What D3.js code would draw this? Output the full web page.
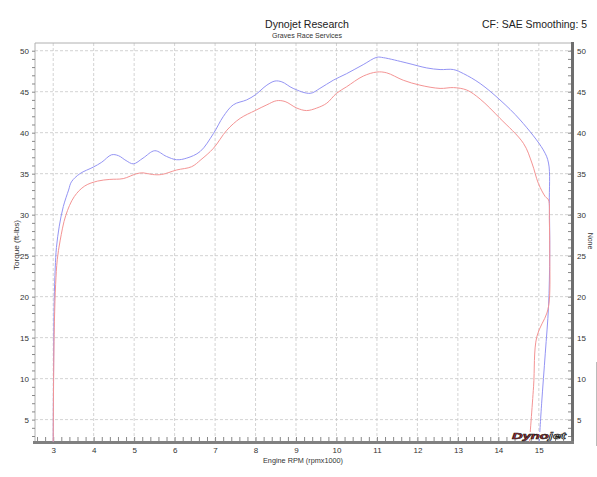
<!DOCTYPE html>
<html><head><meta charset="utf-8">
<script src="https://cdn.jsdelivr.net/npm/d3@7"></script>
<style>html,body{margin:0;padding:0;background:#fff;}svg{display:block;}</style>
</head><body>
<svg id="c" width="597" height="477"></svg>
<script>
const titleText = "Dynojet Research";
const subtitleText = "Graves Race Services";
const cornerText = "CF: SAE Smoothing: 5";
const xLabel = "Engine RPM (rpmx1000)";
const yLabel = "Torque (ft-lbs)";
const y2Label = "None";
const xTicks = [3,4,5,6,7,8,9,10,11,12,13,14,15];
const yTicks = [5,10,15,20,25,30,35,40,45,50];

const blueRpm = [3.00,3.01,3.025,3.05,3.08,3.15,3.25,3.38,3.45,3.66,3.99,4.20,4.44,4.61,4.80,4.98,5.22,5.51,5.80,6.05,6.30,6.63,6.96,7.20,7.45,7.78,7.99,8.28,8.48,8.65,8.93,9.35,9.59,9.92,10.25,10.66,11.00,11.16,11.74,12.23,12.56,12.89,13.14,13.55,14.04,14.54,15.11,15.24,15.26,15.27,15.24,15.16,15.07,15.01];
const blueTq  = [2.3,12,19.5,23.5,26.0,28.6,31.0,33.0,34.0,35.0,35.8,36.4,37.3,37.2,36.6,36.2,36.9,37.8,37.1,36.7,36.9,37.7,39.9,41.95,43.4,44.0,44.6,45.8,46.3,46.2,45.4,44.8,45.4,46.4,47.2,48.3,49.2,49.15,48.5,47.9,47.7,47.7,47.2,46.0,44.0,41.55,37.9,36.3,31.4,25.3,18.8,13.1,7.0,2.3];

const redRpm = [3.00,3.01,3.03,3.06,3.10,3.17,3.31,3.52,3.78,4.10,4.40,4.73,5.06,5.22,5.45,5.68,6.05,6.42,6.65,6.96,7.29,7.62,7.99,8.28,8.52,8.73,9.02,9.26,9.51,9.76,10.00,10.25,10.66,11.00,11.24,11.65,12.06,12.56,12.89,13.22,13.55,14.04,14.62,14.83,14.99,15.16,15.24,15.26,15.27,15.26,15.20,14.95,14.87,14.77];
const redTq  = [2.3,10,17,21.5,24.5,26.8,29.9,32.2,33.5,34.1,34.3,34.4,35.0,35.1,34.9,34.9,35.45,35.85,36.7,38.1,40.3,41.75,42.7,43.4,43.9,43.8,43.0,42.7,43.0,43.6,44.8,45.6,46.9,47.4,47.3,46.4,45.8,45.4,45.5,45.2,44.1,41.75,38.7,36.3,33.8,32.2,31.8,29.4,25.3,19.6,18.0,15.1,9.0,2.3];

const L = 35, R = 572, T = 43, B = 442;
const x = d3.scaleLinear().domain([2.55, 15.82]).range([L, R]);
const y = d3.scaleLinear().domain([2.27, 50.94]).range([B, T]);

const svg = d3.select("#c");
const font = "'Liberation Sans', Arial, sans-serif";

// grid
const grid = svg.append("g").attr("stroke", "#c8c8c8").attr("stroke-width", 0.8).attr("stroke-dasharray", "3,2");
grid.selectAll("line.v").data(xTicks).join("line").attr("class","v")
  .attr("x1", d => x(d)).attr("x2", d => x(d)).attr("y1", T).attr("y2", B);
grid.selectAll("line.h").data(yTicks).join("line").attr("class","h")
  .attr("x1", L).attr("x2", R).attr("y1", d => y(d)).attr("y2", d => y(d));

// frame
svg.append("line").attr("x1", L).attr("x2", R).attr("y1", T).attr("y2", T).attr("stroke", "#b0b0b0");
svg.append("line").attr("x1", L).attr("x2", L).attr("y1", T).attr("y2", B).attr("stroke", "#b0b0b0");

// left axis
const yMinor = d3.range(3, 51, 1);
const leftAxis = d3.axisLeft(y).tickValues(yMinor).tickSize(3).tickFormat(d => yTicks.includes(d) ? d : "");
const gl = svg.append("g").attr("transform", `translate(${L},0)`).call(leftAxis);
gl.select(".domain").remove();
gl.selectAll(".tick line").attr("stroke", "#888");
gl.selectAll(".tick text").attr("font-family", font).attr("font-size", 8).attr("fill", "#333").attr("x", -6);

// right axis
const rightAxis = d3.axisRight(y).tickValues(yMinor).tickSize(-4).tickFormat(d => yTicks.includes(d) ? d : "");
const gr = svg.append("g").attr("transform", `translate(${R},0)`).call(rightAxis);
gr.select(".domain").remove();
gr.selectAll(".tick line").attr("stroke", "#888");
gr.selectAll(".tick text").attr("font-family", font).attr("font-size", 8).attr("fill", "#333").attr("x", 5);
svg.append("line").attr("x1", R + 0.5).attr("x2", R + 0.5).attr("y1", T - 1).attr("y2", B + 2).attr("stroke", "#6e6e6e").attr("stroke-width", 3);

// bottom axis
const xMinor = d3.range(2.6, 15.81, 0.2).map(v => Math.round(v * 10) / 10);
const bottomAxis = d3.axisBottom(x).tickValues(xMinor).tickSize(-4).tickFormat(d => Number.isInteger(d) && d >= 3 && d <= 15 ? d : "");
const gb = svg.append("g").attr("transform", `translate(0,${B - 1})`).call(bottomAxis);
gb.select(".domain").remove();
gb.selectAll(".tick line").attr("stroke", "#888");
gb.selectAll(".tick text").attr("font-family", font).attr("font-size", 8).attr("fill", "#333").attr("y", 6);
svg.append("line").attr("x1", L - 2).attr("x2", R + 2).attr("y1", B + 0.5).attr("y2", B + 0.5).attr("stroke", "#808080").attr("stroke-width", 3);

// curves
const line = d3.line().x(d => x(d[0])).y(d => y(d[1])).curve(d3.curveCatmullRom.alpha(0.5));
const plot = svg.append("g");
plot.append("path").datum(blueRpm.map((r, i) => [r, blueTq[i]]))
  .attr("d", line).attr("fill", "none").attr("stroke", "#9494f4").attr("stroke-width", 1);
plot.append("path").datum(redRpm.map((r, i) => [r, redTq[i]]))
  .attr("d", line).attr("fill", "none").attr("stroke", "#f49494").attr("stroke-width", 1);

// titles
svg.append("text").attr("x", 307).attr("y", 28).attr("text-anchor", "middle")
  .attr("font-family", font).attr("font-size", 11.5).attr("fill", "#222")
  .attr("textLength", 84).attr("lengthAdjust", "spacingAndGlyphs").text(titleText);
svg.append("text").attr("x", 307).attr("y", 38).attr("text-anchor", "middle")
  .attr("font-family", font).attr("font-size", 7).attr("fill", "#333")
  .attr("textLength", 70).attr("lengthAdjust", "spacingAndGlyphs").text(subtitleText);
svg.append("text").attr("x", 482).attr("y", 28).attr("text-anchor", "start")
  .attr("font-family", font).attr("font-size", 11).attr("fill", "#222")
  .attr("textLength", 105).attr("lengthAdjust", "spacingAndGlyphs").text(cornerText);

svg.append("text").attr("x", 303).attr("y", 463).attr("text-anchor", "middle")
  .attr("font-family", font).attr("font-size", 7.5).attr("fill", "#333")
  .attr("textLength", 80).attr("lengthAdjust", "spacingAndGlyphs").text(xLabel);
svg.append("text").attr("transform", "translate(19,245) rotate(-90)").attr("text-anchor", "middle")
  .attr("font-family", font).attr("font-size", 7.5).attr("fill", "#333")
  .attr("textLength", 50).attr("lengthAdjust", "spacingAndGlyphs").text(yLabel);
svg.append("text").attr("transform", "translate(588,241) rotate(90)").attr("text-anchor", "middle")
  .attr("font-family", font).attr("font-size", 7).attr("fill", "#333").text(y2Label);

// small edge line at right
svg.append("line").attr("x1", 596.5).attr("x2", 596.5).attr("y1", 362).attr("y2", 446).attr("stroke", "#bbb");

// logo
const logo = svg.append("g");
logo.append("rect").attr("x", 512).attr("y", 432).attr("width", 54).attr("height", 7).attr("fill", "#fff");
logo.append("text").attr("x", 512).attr("y", 438.5).attr("font-family", font).attr("font-size", 9)
  .attr("font-weight", "bold").attr("font-style", "italic").attr("fill", "#c0282d").attr("stroke", "#222").attr("stroke-width", 0.6)
  .attr("textLength", 54).attr("lengthAdjust", "spacingAndGlyphs")
  .selectAll("tspan").data([["Dyno", "#c0282d"], ["jet", "#e8e8e8"]]).join("tspan")
  .attr("fill", d => d[1]).text(d => d[0]);
</script>
</body></html>
